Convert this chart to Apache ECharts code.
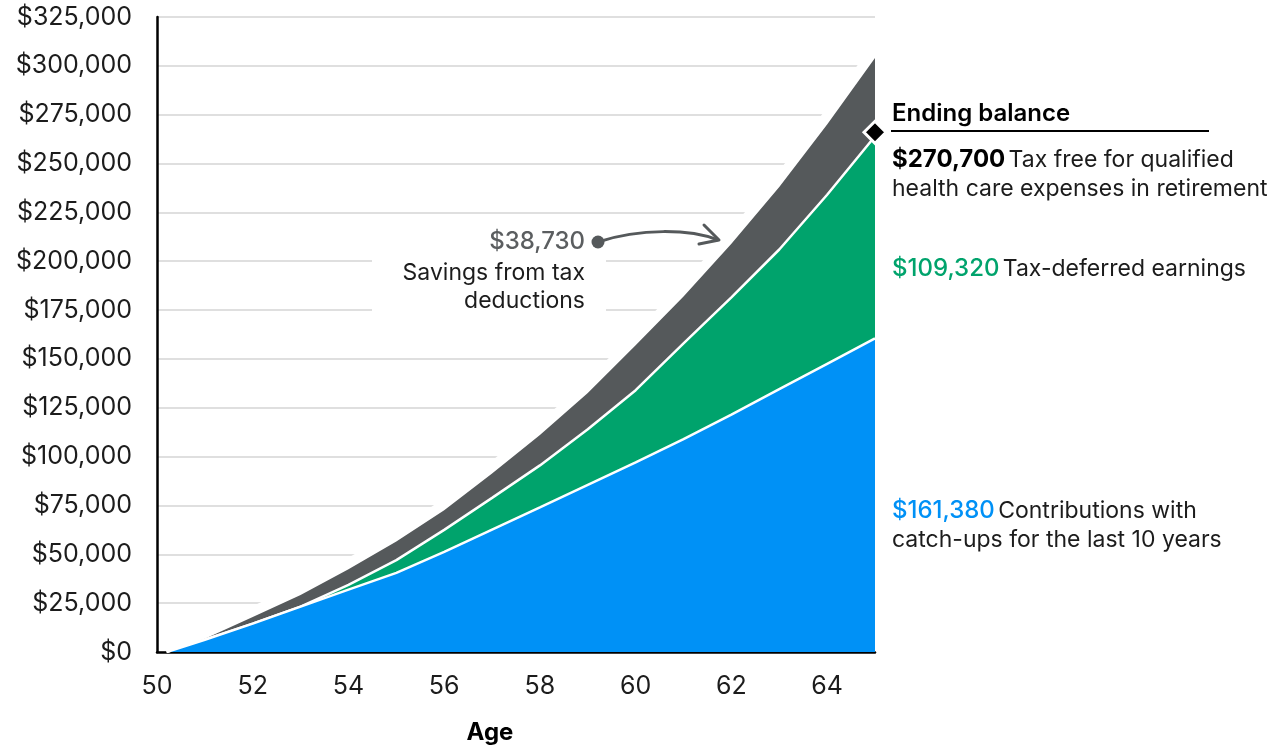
<!DOCTYPE html>
<html>
<head>
<meta charset="utf-8">
<title>HSA ending balance</title>
<script src="https://cdn.jsdelivr.net/npm/echarts@6/dist/echarts.min.js"></script>
<style>
  html, body { margin: 0; padding: 0; background: #fff; }
  #chart { width: 1276px; height: 748px; }
</style>
</head>
<body>
<div id="chart"></div>
<script>
// ages (first point sits just after 50 in the original)
const ages = [50.2, 51, 52, 53, 54, 55, 56, 57, 58, 59, 60, 61, 62, 63, 64, 65];
const contributions = [0, 6300, 14500, 23200, 31900, 40500, 51200, 62600, 74000, 85500, 97000, 109000, 121500, 134500, 147500, 160500];
const earnings = [0, 0, 0, 0, 2500, 6500, 11300, 16300, 21500, 28500, 37000, 49000, 60000, 71500, 86500, 103500];
const taxSavings = [0, 500, 3400, 6000, 8000, 9500, 10000, 12500, 15500, 18500, 23000, 24000, 27500, 32000, 36000, 40000];
const endingMarker = [[65, 266000]];
const xTicks = [50, 52, 54, 56, 58, 60, 62, 64];

const blue = "#0091f6";
const green = "#00a36c";
const gray = "#55595b";
const ink = "#1c1c1c";
const font = "Inter, 'Noto Sans', sans-serif";

// layers are drawn as overlapping areas from zero, so build the running totals
const blueTop = ages.map((a, i) => [a, contributions[i]]);
const greenTop = ages.map((a, i) => [a, contributions[i] + earnings[i]]);
const grayTop = ages.map((a, i) => [a, contributions[i] + earnings[i] + taxSavings[i]]);
// white band outside the top edge so gridlines stop short of the area
const halo = grayTop.map((p, i) => [p[0], i < 2 ? null : p[1]]);

const chart = echarts.init(document.getElementById("chart"));

chart.setOption({
  backgroundColor: "#fff",
  animation: false,
  grid: { left: 157, right: 401, top: 17, bottom: 96 },
  xAxis: {
    type: "value",
    min: 50,
    max: 65,
    interval: 2,
    axisLine: { show: true, onZero: false, lineStyle: { color: "#000", width: 2.5 } },
    axisTick: { show: false },
    splitLine: { show: false },
    axisLabel: {
      showMaxLabel: false,
      margin: 22,
      color: ink,
      fontSize: 25,
      fontFamily: font,
      formatter: v => (xTicks.indexOf(v) >= 0 ? String(v) : "")
    }
  },
  yAxis: {
    type: "value",
    min: 0,
    max: 325000,
    interval: 25000,
    axisLine: { show: true, lineStyle: { color: "#000", width: 2.5 } },
    axisTick: { show: false },
    splitLine: { show: true, lineStyle: { color: "#d4d4d4", width: 1.5 } },
    axisLabel: {
      margin: 25,
      color: ink,
      fontSize: 25,
      fontFamily: font,
      formatter: v => "$" + v.toLocaleString("en-US")
    }
  },
  series: [
    {
      name: "halo",
      type: "line",
      data: halo,
      z: 2,
      symbol: "none",
      silent: true,
      lineStyle: { color: "#fff", width: 20, cap: "butt" }
    },
    {
      name: "Savings from tax deductions",
      type: "line",
      data: grayTop,
      z: 3,
      symbol: "none",
      lineStyle: { width: 0 },
      areaStyle: { color: gray, opacity: 1 }
    },
    {
      name: "Tax-deferred earnings",
      type: "line",
      data: greenTop,
      z: 4,
      symbol: "none",
      lineStyle: { color: "#fff", width: 2.5 },
      areaStyle: { color: green, opacity: 1 }
    },
    {
      name: "Contributions",
      type: "line",
      data: blueTop,
      z: 5,
      symbol: "none",
      lineStyle: { color: "#fff", width: 2.5 },
      areaStyle: { color: blue, opacity: 1 }
    },
    {
      name: "Ending balance",
      type: "scatter",
      data: endingMarker,
      z: 6,
      symbol: "diamond",
      symbolSize: [22, 22],
      itemStyle: { color: "#000", borderColor: "#fff", borderWidth: 3, opacity: 1 }
    }
  ],
  graphic: [
    {
      type: "rect",
      z: 10,
      shape: { x: 372, y: 224, width: 234, height: 96 },
      style: { fill: "#fff" }
    },
    {
      type: "text",
      z: 11,
      style: {
        x: 585, y: 242, text: "$38,730", align: "right", verticalAlign: "middle",
        font: "500 24px " + font, fill: "#5b5e60"
      }
    },
    {
      type: "text",
      z: 11,
      style: {
        x: 585, y: 273, text: "Savings from tax", align: "right", verticalAlign: "middle",
        font: "23px " + font, fill: ink
      }
    },
    {
      type: "text",
      z: 11,
      style: {
        x: 585, y: 301, text: "deductions", align: "right", verticalAlign: "middle",
        font: "23px " + font, fill: ink
      }
    },
    {
      type: "circle",
      z: 11,
      shape: { cx: 598, cy: 242, r: 6.5 },
      style: { fill: gray }
    },
    {
      type: "bezierCurve",
      z: 11,
      shape: { x1: 598, y1: 242, cpx1: 640, cpy1: 228, cpx2: 690, cpy2: 229, x2: 718, y2: 240 },
      style: { stroke: gray, lineWidth: 3, fill: null }
    },
    {
      type: "polyline",
      z: 11,
      shape: { points: [[704, 225], [719, 240], [699, 244]] },
      style: { stroke: gray, lineWidth: 3, fill: null, lineJoin: "round", lineCap: "round" }
    },
    {
      type: "text",
      z: 11,
      style: {
        x: 892, y: 114, text: "Ending balance", verticalAlign: "middle",
        font: "600 24px " + font, fill: "#000"
      }
    },
    {
      type: "rect",
      z: 11,
      shape: { x: 891, y: 130, width: 318, height: 2 },
      style: { fill: "#000" }
    },
    {
      type: "text",
      z: 11,
      style: {
        x: 892, y: 160, verticalAlign: "middle",
        text: "{b|$270,700} {n|Tax free for qualified}",
        rich: {
          b: { font: "bold 24px " + font, fill: "#000" },
          n: { font: "23px " + font, fill: ink }
        }
      }
    },
    {
      type: "text",
      z: 11,
      style: {
        x: 892, y: 189, verticalAlign: "middle",
        text: "health care expenses in retirement",
        font: "23px " + font, fill: ink
      }
    },
    {
      type: "text",
      z: 11,
      style: {
        x: 892, y: 269, verticalAlign: "middle",
        text: "{g|$109,320} {n|Tax-deferred earnings}",
        rich: {
          g: { font: "500 24px " + font, fill: green },
          n: { font: "23px " + font, fill: ink }
        }
      }
    },
    {
      type: "text",
      z: 11,
      style: {
        x: 892, y: 511, verticalAlign: "middle",
        text: "{c|$161,380} {n|Contributions with}",
        rich: {
          c: { font: "500 24px " + font, fill: blue },
          n: { font: "23px " + font, fill: ink }
        }
      }
    },
    {
      type: "text",
      z: 11,
      style: {
        x: 892, y: 540, verticalAlign: "middle",
        text: "catch-ups for the last 10 years",
        font: "23px " + font, fill: ink
      }
    },
    {
      type: "text",
      z: 11,
      style: {
        x: 490, y: 733, text: "Age", align: "center", verticalAlign: "middle",
        font: "bold 24px " + font, fill: "#000"
      }
    }
  ]
});
</script>
</body>
</html>
